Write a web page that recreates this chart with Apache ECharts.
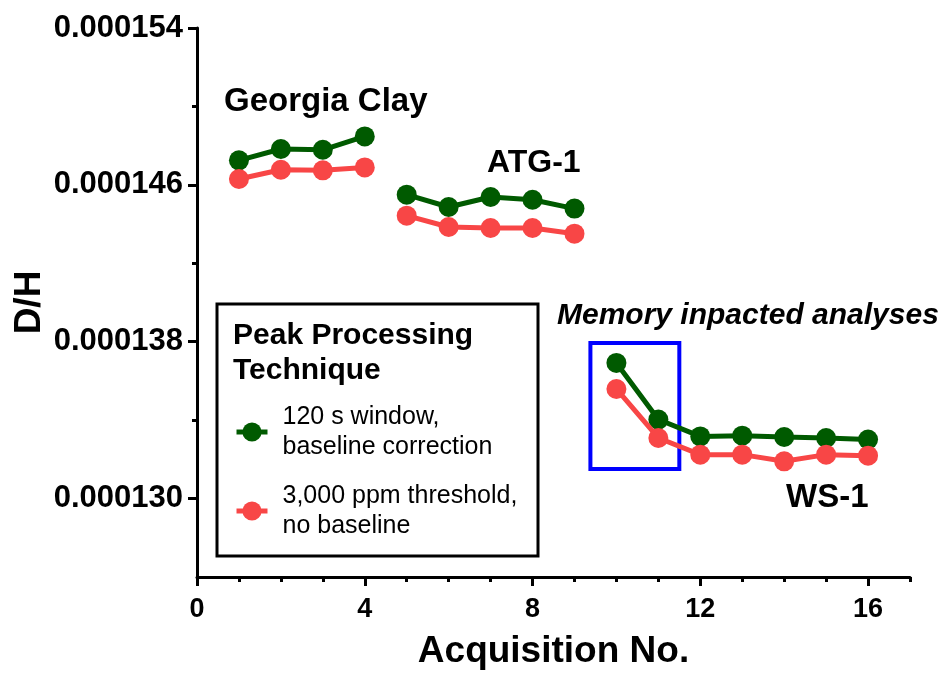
<!DOCTYPE html>
<html>
<head>
<meta charset="utf-8">
<title>D/H by acquisition</title>
<script src="https://cdn.jsdelivr.net/npm/echarts@6/dist/echarts.min.js"></script>
<style>
  html, body { margin: 0; padding: 0; background: #ffffff; }
  #chart { width: 952px; height: 673px; }
</style>
</head>
<body>
<div id="chart"></div>
<script>
// Acquisition numbers and sample groups
const acquisitions = [1, 2, 3, 4, 5, 6, 7, 8, 9, 10, 11, 12, 13, 14, 15, 16];
const sampleGroups = [
  { name: 'Georgia Clay', first: 1, last: 4 },
  { name: 'ATG-1', first: 5, last: 9 },
  { name: 'WS-1', first: 10, last: 16 }
];

// D/H ratios for the two peak processing techniques
const windowBaselineDH = [
  0.00014725, 0.00014783, 0.00014779, 0.00014847,
  0.00014550, 0.00014487, 0.00014538, 0.00014524, 0.00014479,
  0.00013692, 0.00013403, 0.00013317, 0.00013321, 0.00013314, 0.00013309, 0.00013301
];
const thresholdDH = [
  0.00014630, 0.00014677, 0.00014674, 0.00014689,
  0.00014443, 0.00014385, 0.00014380, 0.00014380, 0.00014351,
  0.00013559, 0.00013309, 0.00013224, 0.00013224, 0.00013190, 0.00013224, 0.00013219
];

// Axis ticks
const yTickValues = [0.000130, 0.000138, 0.000146, 0.000154];
const yMinorTickValues = [0.000134, 0.000142, 0.000150];
const xTickValues = [0, 4, 8, 12, 16];
const xMinorTickValues = [1, 2, 3, 5, 6, 7, 9, 10, 11, 13, 14, 15, 17];

// Region of the memory-affected WS-1 runs: [x0, y0], [x1, y1]
const memoryBox = [[9.38, 0.00013794], [11.50, 0.00013151]];

const seriesNames = ['120 s window,\nbaseline correction', '3,000 ppm threshold,\nno baseline'];
const seriesColors = ['#005a00', '#f84646'];
const seriesValues = [windowBaselineDH, thresholdDH];

const FONT = 'Liberation Sans, Arial, Helvetica, sans-serif';

function groupPoints(values, group) {
  const pts = [];
  acquisitions.forEach((a, i) => {
    if (a >= group.first && a <= group.last) pts.push([a, values[i]]);
  });
  return pts;
}

const series = [];
seriesValues.forEach((values, k) => {
  sampleGroups.forEach((group, g) => {
    const s = {
      name: seriesNames[k],
      type: 'line',
      data: groupPoints(values, group),
      symbol: 'circle',
      symbolSize: 20,
      color: seriesColors[k],
      lineStyle: { width: 5, color: seriesColors[k] },
      itemStyle: { color: seriesColors[k] },
      z: 3 + k,
      animation: false
    };
    if (k === 1 && g === 2) {
      s.markArea = {
        silent: true,
        itemStyle: { color: 'rgba(0,0,0,0)', borderColor: '#0000ff', borderWidth: 4 },
        data: [[{ coord: memoryBox[0] }, { coord: memoryBox[1] }]]
      };
    }
    series.push(s);
  });
});

const yMin = 0.000126, yMax = 0.000154;

const chart = echarts.init(document.getElementById('chart'), null, { renderer: 'canvas' });
chart.setOption({
  animation: false,
  backgroundColor: '#ffffff',
  grid: { left: 197, right: 42, top: 28, bottom: 96, containLabel: false, outerBoundsMode: 'none' },
  xAxis: [
    {
      type: 'value', min: 0, max: 17,
      name: 'Acquisition No.', nameLocation: 'middle', nameGap: 56,
      nameMoveOverlap: false,
      nameTextStyle: { fontFamily: FONT, fontWeight: 'bold', fontSize: 37, color: '#000' },
      axisLine: { show: true, lineStyle: { color: '#000', width: 3 } },
      axisTick: { show: true, length: 9, lineStyle: { color: '#000', width: 3 }, customValues: xTickValues },
      axisLabel: { customValues: xTickValues, margin: 19, fontFamily: FONT, fontWeight: 'bold', fontSize: 27, color: '#000' },
      splitLine: { show: false }
    },
    {
      type: 'value', min: 0, max: 17, position: 'bottom',
      axisLine: { show: false },
      axisTick: { show: true, length: 5, lineStyle: { color: '#000', width: 3 }, customValues: xMinorTickValues },
      axisLabel: { show: false },
      splitLine: { show: false }
    }
  ],
  yAxis: [
    {
      type: 'value', min: yMin, max: yMax,
      name: 'D/H', nameLocation: 'middle', nameGap: 149,
      nameMoveOverlap: false,
      nameTextStyle: { fontFamily: FONT, fontWeight: 'bold', fontSize: 37, color: '#000' },
      axisLine: { show: true, lineStyle: { color: '#000', width: 3 } },
      axisTick: { show: true, length: 9, lineStyle: { color: '#000', width: 3 }, customValues: yTickValues },
      axisLabel: {
        customValues: yTickValues, margin: 14,
        fontFamily: FONT, fontWeight: 'bold', fontSize: 31, color: '#000',
        formatter: v => v.toFixed(6)
      },
      splitLine: { show: false }
    },
    {
      type: 'value', min: yMin, max: yMax, position: 'left',
      axisLine: { show: false },
      axisTick: { show: true, length: 5, lineStyle: { color: '#000', width: 3 }, customValues: yMinorTickValues },
      axisLabel: { show: false },
      splitLine: { show: false }
    }
  ],
  legend: {
    data: seriesNames,
    orient: 'vertical',
    left: 234, top: 402,
    padding: 0,
    itemGap: 19,
    itemWidth: 31,
    itemHeight: 24,
    selectedMode: false,
    lineStyle: { width: 5 },
    textStyle: { fontFamily: FONT, fontSize: 25, lineHeight: 30, color: '#000', padding: [0, 0, 0, 10] }
  },
  graphic: [
    { type: 'rect', shape: { x: 217, y: 304, width: 321, height: 252 }, style: { fill: '#fff', stroke: '#000', lineWidth: 3 }, z: 1 },
    { type: 'text', x: 233, y: 336, style: { text: 'Peak Processing', font: 'bold 30px ' + FONT, fill: '#000', verticalAlign: 'middle' }, z: 2 },
    { type: 'text', x: 233, y: 371, style: { text: 'Technique', font: 'bold 30px ' + FONT, fill: '#000', verticalAlign: 'middle' }, z: 2 },
    { type: 'text', x: 224, y: 102, style: { text: 'Georgia Clay', font: 'bold 33px ' + FONT, fill: '#000', verticalAlign: 'middle' } },
    { type: 'text', x: 487, y: 163, style: { text: 'ATG-1', font: 'bold 32px ' + FONT, fill: '#000', verticalAlign: 'middle' } },
    { type: 'text', x: 786, y: 498, style: { text: 'WS-1', font: 'bold 33px ' + FONT, fill: '#000', verticalAlign: 'middle' } },
    { type: 'text', x: 557, y: 316, style: { text: 'Memory inpacted analyses', font: 'italic bold 30px ' + FONT, fill: '#000', verticalAlign: 'middle' } }
  ],
  series: series
});
</script>
</body>
</html>
